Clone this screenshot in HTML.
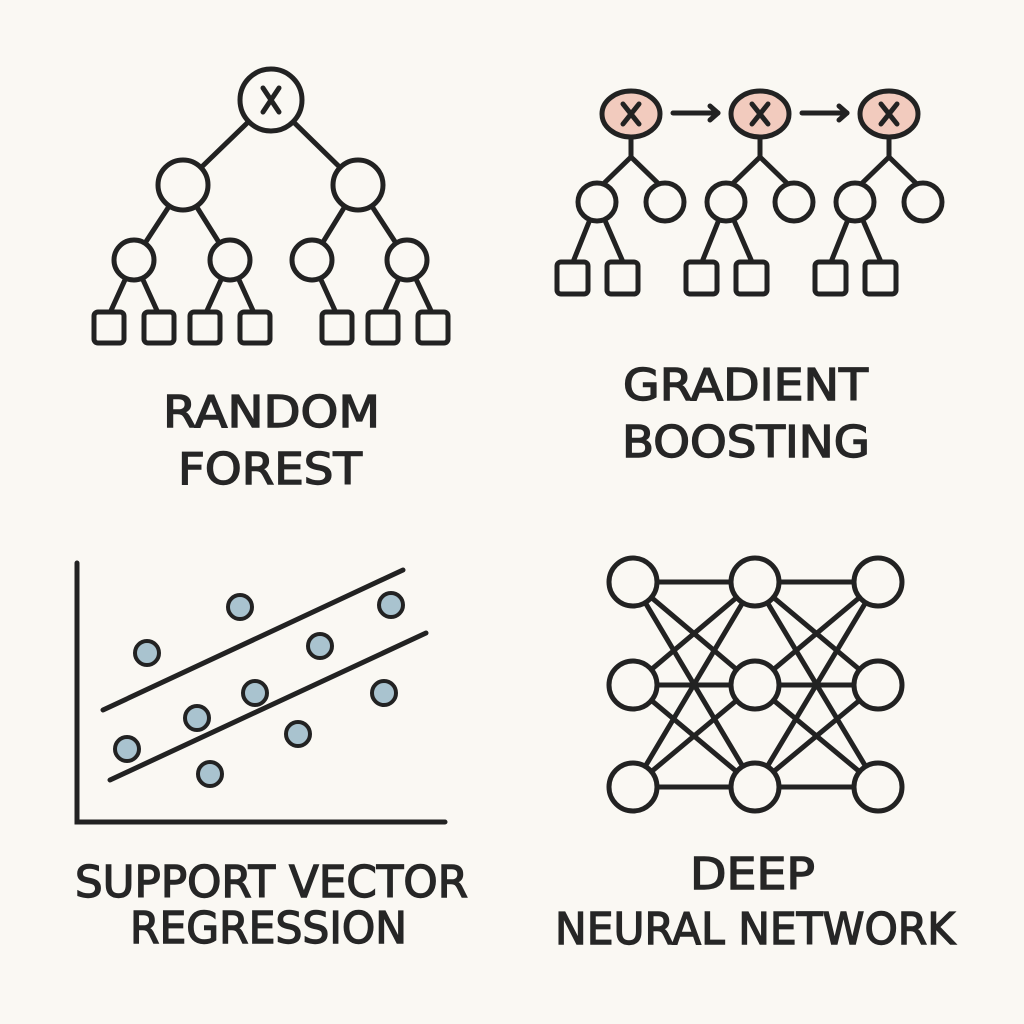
<!DOCTYPE html>
<html><head><meta charset="utf-8"><style>
html,body{margin:0;padding:0;background:#faf8f3;}
svg{display:block}
text{font-family:"DejaVu Sans","Liberation Sans",sans-serif;font-weight:normal;fill:#262626;stroke:#262626;stroke-width:1.4px;}
</style></head><body>
<svg width="1024" height="1024" viewBox="0 0 1024 1024" xmlns="http://www.w3.org/2000/svg">
<rect width="1024" height="1024" fill="#faf8f3"/>
<g stroke="#222" stroke-width="5" fill="#faf8f3" stroke-linecap="round" stroke-linejoin="round">
<line x1="271" y1="100" x2="183" y2="185"/><line x1="271" y1="100" x2="358" y2="185"/>
<line x1="183" y1="185" x2="134" y2="260"/><line x1="183" y1="185" x2="230" y2="260"/>
<line x1="358" y1="185" x2="312" y2="260"/><line x1="358" y1="185" x2="407" y2="260"/>
<line x1="134" y1="260" x2="109" y2="315"/><line x1="134" y1="260" x2="159" y2="315"/>
<line x1="230" y1="260" x2="205" y2="315"/><line x1="230" y1="260" x2="255" y2="315"/>
<line x1="312" y1="260" x2="337" y2="315"/>
<line x1="407" y1="260" x2="383" y2="315"/><line x1="407" y1="260" x2="433" y2="315"/>
<circle cx="271" cy="100" r="31"/>
<circle cx="183" cy="185" r="25"/><circle cx="358" cy="185" r="25"/>
<circle cx="134" cy="260" r="20"/><circle cx="230" cy="260" r="20"/><circle cx="312" cy="260" r="20"/><circle cx="407" cy="260" r="20"/>
<rect x="94" y="312" width="30" height="31" rx="4"/><rect x="144" y="312" width="30" height="31" rx="4"/>
<rect x="190" y="312" width="30" height="31" rx="4"/><rect x="240" y="312" width="30" height="31" rx="4"/>
<rect x="322" y="312" width="30" height="31" rx="4"/><rect x="368" y="312" width="30" height="31" rx="4"/>
<rect x="418" y="312" width="30" height="31" rx="4"/>
<path d="M263 88 L279 112 M279 88 L263 112" fill="none"/>
</g>
<g stroke="#222" stroke-width="5" fill="#faf8f3" stroke-linecap="round" stroke-linejoin="round">
<g id="gb">
<line x1="631" y1="135" x2="631" y2="157"/>
<line x1="631" y1="157" x2="597" y2="190"/><line x1="631" y1="157" x2="665" y2="190"/>
<line x1="597" y1="202" x2="573" y2="262"/><line x1="597" y1="202" x2="623" y2="262"/>
<circle cx="597" cy="202" r="19"/><circle cx="665" cy="202" r="19"/>
<rect x="557" y="262" width="31" height="32" rx="4"/><rect x="607" y="262" width="31" height="32" rx="4"/>
<ellipse cx="631" cy="114" rx="29" ry="23" fill="#f2cbbe"/>
<path d="M623 104 L639 124 M639 104 L623 124" fill="none"/>
</g>
<use href="#gb" x="129"/>
<use href="#gb" x="258"/>
<line x1="673" y1="113" x2="718" y2="113"/><path d="M710 106 L718 113 L710 120" fill="none"/>
<line x1="802" y1="113" x2="847" y2="113"/><path d="M839 106 L847 113 L839 120" fill="none"/>
</g>
<g stroke="#222" stroke-width="5" fill="none" stroke-linecap="round">
<path d="M77 563 L77 822 L445 822"/>
<line x1="103" y1="710" x2="403" y2="570"/>
<line x1="110" y1="780" x2="426" y2="633"/>
</g>
<g stroke="#222" stroke-width="4" fill="#a9c3cf">
<circle cx="240" cy="607" r="12"/><circle cx="391" cy="605" r="12"/><circle cx="147" cy="653" r="12"/>
<circle cx="320" cy="646" r="12"/><circle cx="255" cy="693" r="12"/><circle cx="384" cy="693" r="12"/>
<circle cx="197" cy="718" r="12"/><circle cx="127" cy="749" r="12"/><circle cx="298" cy="734" r="12"/>
<circle cx="210" cy="774" r="12"/>
</g>
<g stroke="#222" stroke-width="5" fill="#faf8f3">
<g>
<line x1="633" y1="582" x2="755" y2="582"/><line x1="633" y1="582" x2="755" y2="685"/><line x1="633" y1="582" x2="755" y2="787"/>
<line x1="633" y1="685" x2="755" y2="582"/><line x1="633" y1="685" x2="755" y2="685"/><line x1="633" y1="685" x2="755" y2="787"/>
<line x1="633" y1="787" x2="755" y2="582"/><line x1="633" y1="787" x2="755" y2="685"/><line x1="633" y1="787" x2="755" y2="787"/>
<line x1="755" y1="582" x2="878" y2="582"/><line x1="755" y1="582" x2="878" y2="685"/><line x1="755" y1="582" x2="878" y2="787"/>
<line x1="755" y1="685" x2="878" y2="582"/><line x1="755" y1="685" x2="878" y2="685"/><line x1="755" y1="685" x2="878" y2="787"/>
<line x1="755" y1="787" x2="878" y2="582"/><line x1="755" y1="787" x2="878" y2="685"/><line x1="755" y1="787" x2="878" y2="787"/>
</g>
<circle cx="633" cy="582" r="24"/><circle cx="755" cy="582" r="24"/><circle cx="878" cy="582" r="24"/>
<circle cx="633" cy="685" r="24"/><circle cx="755" cy="685" r="24"/><circle cx="878" cy="685" r="24"/>
<circle cx="633" cy="787" r="24"/><circle cx="755" cy="787" r="24"/><circle cx="878" cy="787" r="24"/>
</g>
<g font-size="44">
<text x="163" y="427" textLength="217" lengthAdjust="spacingAndGlyphs">RANDOM</text>
<text x="178" y="484" textLength="184" lengthAdjust="spacingAndGlyphs">FOREST</text>
<text x="623" y="400" textLength="245" lengthAdjust="spacingAndGlyphs">GRADIENT</text>
<text x="622" y="457" textLength="248" lengthAdjust="spacingAndGlyphs">BOOSTING</text>
<text x="75" y="897" textLength="393" lengthAdjust="spacingAndGlyphs">SUPPORT VECTOR</text>
<text x="130" y="943" textLength="277" lengthAdjust="spacingAndGlyphs">REGRESSION</text>
<text x="690" y="889" textLength="125" lengthAdjust="spacingAndGlyphs">DEEP</text>
<text x="555" y="944" textLength="400" lengthAdjust="spacingAndGlyphs">NEURAL NETWORK</text>
</g>
</svg>
</body></html>
